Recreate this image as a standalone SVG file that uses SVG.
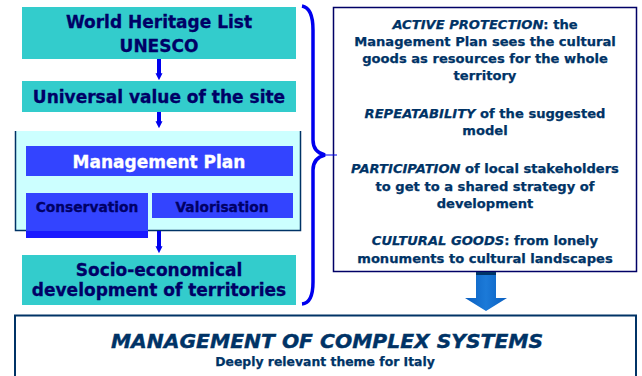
<svg xmlns="http://www.w3.org/2000/svg" width="642" height="376" viewBox="0 0 642 376">
<style>
.teal{fill:#33cccc}
.lt{font-family:"DejaVu Sans","Verdana",sans-serif;font-weight:bold;fill:#000066;stroke:#000066;stroke-width:0.3;text-anchor:middle}
.rt{font-family:"DejaVu Sans","Verdana",sans-serif;font-weight:bold;fill:#003366;stroke:#003366;stroke-width:0.25;text-anchor:middle;font-size:13.1px}
.it{font-style:italic}
.conn{stroke:#0000ee;stroke-width:4;fill:none}
</style>
<defs>
<marker id="ah" viewBox="0 0 10 10" refX="4" refY="5" markerWidth="7" markerHeight="10" markerUnits="userSpaceOnUse" orient="auto">
<path d="M0,0 L10,5 L0,10 Z" fill="#0000ee"/>
</marker>
<linearGradient id="bg" x1="0" y1="0" x2="1" y2="0">
<stop offset="0" stop-color="#0a5fc0"/>
<stop offset="0.5" stop-color="#1c7ad8"/>
<stop offset="1" stop-color="#0a5fc0"/>
</linearGradient>
</defs>
<rect width="642" height="376" fill="#ffffff"/>

<g id="whl">
<rect class="teal" x="22" y="7" width="274" height="52"/>
<text class="lt" x="159" y="28" font-size="17">World Heritage List</text>
<text class="lt" x="159" y="52" font-size="17">UNESCO</text>
</g>

<g id="universal">
<rect class="teal" x="22" y="81" width="274" height="31"/>
<text class="lt" x="159" y="103" font-size="17">Universal value of the site</text>
</g>

<g id="mp-container">
<rect x="15" y="131" width="286" height="100" fill="#ccffff"/>
<path d="M15.5,131 L15.5,230.5 L300.5,230.5 L300.5,131" fill="none" stroke="#003366" stroke-width="1.5"/>
</g>

<g id="mp">
<rect x="26" y="146" width="267" height="30" fill="#3344ff"/>
<text x="159" y="168" font-size="17" font-family="DejaVu Sans, Verdana, sans-serif" font-weight="bold" fill="#ffffff" stroke="#ffffff" stroke-width="0.3" text-anchor="middle">Management Plan</text>
</g>

<g id="conservation">
<rect x="26" y="193" width="122" height="45" fill="#3344ff"/>
<rect x="26" y="231" width="122" height="7" fill="#1a1aff"/>
<text class="lt" x="87" y="212" font-size="13.8">Conservation</text>
</g>

<g id="valorisation">
<rect x="152" y="193" width="141" height="25" fill="#3344ff"/>
<text class="lt" x="222" y="212" font-size="13.8">Valorisation</text>
</g>

<g id="socio">
<rect class="teal" x="22" y="255" width="274" height="50"/>
<text class="lt" x="159" y="276" font-size="17">Socio-economical</text>
<text class="lt" x="159" y="296" font-size="17">development of territories</text>
</g>

<g id="right-box">
<rect x="333.5" y="7.5" width="303" height="264" fill="#ffffff" stroke="#000066" stroke-width="1.5"/>
<text class="rt" x="485" y="29"><tspan class="it">ACTIVE PROTECTION</tspan>: the</text>
<text class="rt" x="485" y="46">Management Plan sees the cultural</text>
<text class="rt" x="485" y="63">goods as resources for the whole</text>
<text class="rt" x="485" y="80">territory</text>
<text class="rt" x="485" y="118"><tspan class="it">REPEATABILITY</tspan> of the suggested</text>
<text class="rt" x="485" y="135">model</text>
<text class="rt" x="485" y="173"><tspan class="it">PARTICIPATION</tspan> of local stakeholders</text>
<text class="rt" x="485" y="191">to get to a shared strategy of</text>
<text class="rt" x="485" y="208">development</text>
<text class="rt" x="485" y="245"><tspan class="it">CULTURAL GOODS</tspan>: from lonely</text>
<text class="rt" x="485" y="263">monuments to cultural landscapes</text>
</g>

<g id="bottom-box">
<path d="M15,376 L15,315.5 L636,315.5 L636,376" fill="#ffffff" stroke="#003366" stroke-width="2"/>
<text x="327" y="348" font-size="20.3" font-family="DejaVu Sans, Verdana, sans-serif" font-weight="bold" font-style="italic" fill="#003366" stroke="#003366" stroke-width="0.4" text-anchor="middle">MANAGEMENT OF COMPLEX SYSTEMS</text>
<text x="325" y="366" font-size="12.4" font-family="DejaVu Sans, Verdana, sans-serif" font-weight="bold" fill="#003366" stroke="#003366" stroke-width="0.25" text-anchor="middle">Deeply relevant theme for Italy</text>
</g>

<g id="connectors">
<line class="conn" x1="159" y1="59" x2="159" y2="76" marker-end="url(#ah)"/>
<line class="conn" x1="159" y1="112" x2="159" y2="124" marker-end="url(#ah)"/>
<line class="conn" x1="159" y1="231" x2="159" y2="249" marker-end="url(#ah)"/>
<path d="M302,6 Q313,8 313,30 L313,140 Q313,152 325,155 Q313,158 313,170 L313,282 Q313,303 302,304" fill="none" stroke="#0000ee" stroke-width="3.5"/>
<line x1="325" y1="155" x2="337" y2="155" stroke="#0000ee" stroke-width="1"/>
<path d="M476,272 L496,272 L496,298 L507,298 L486,311 L465,298 L476,298 Z" fill="url(#bg)"/>
<rect x="476" y="272" width="20" height="3" fill="#003366"/>
</g>
</svg>
